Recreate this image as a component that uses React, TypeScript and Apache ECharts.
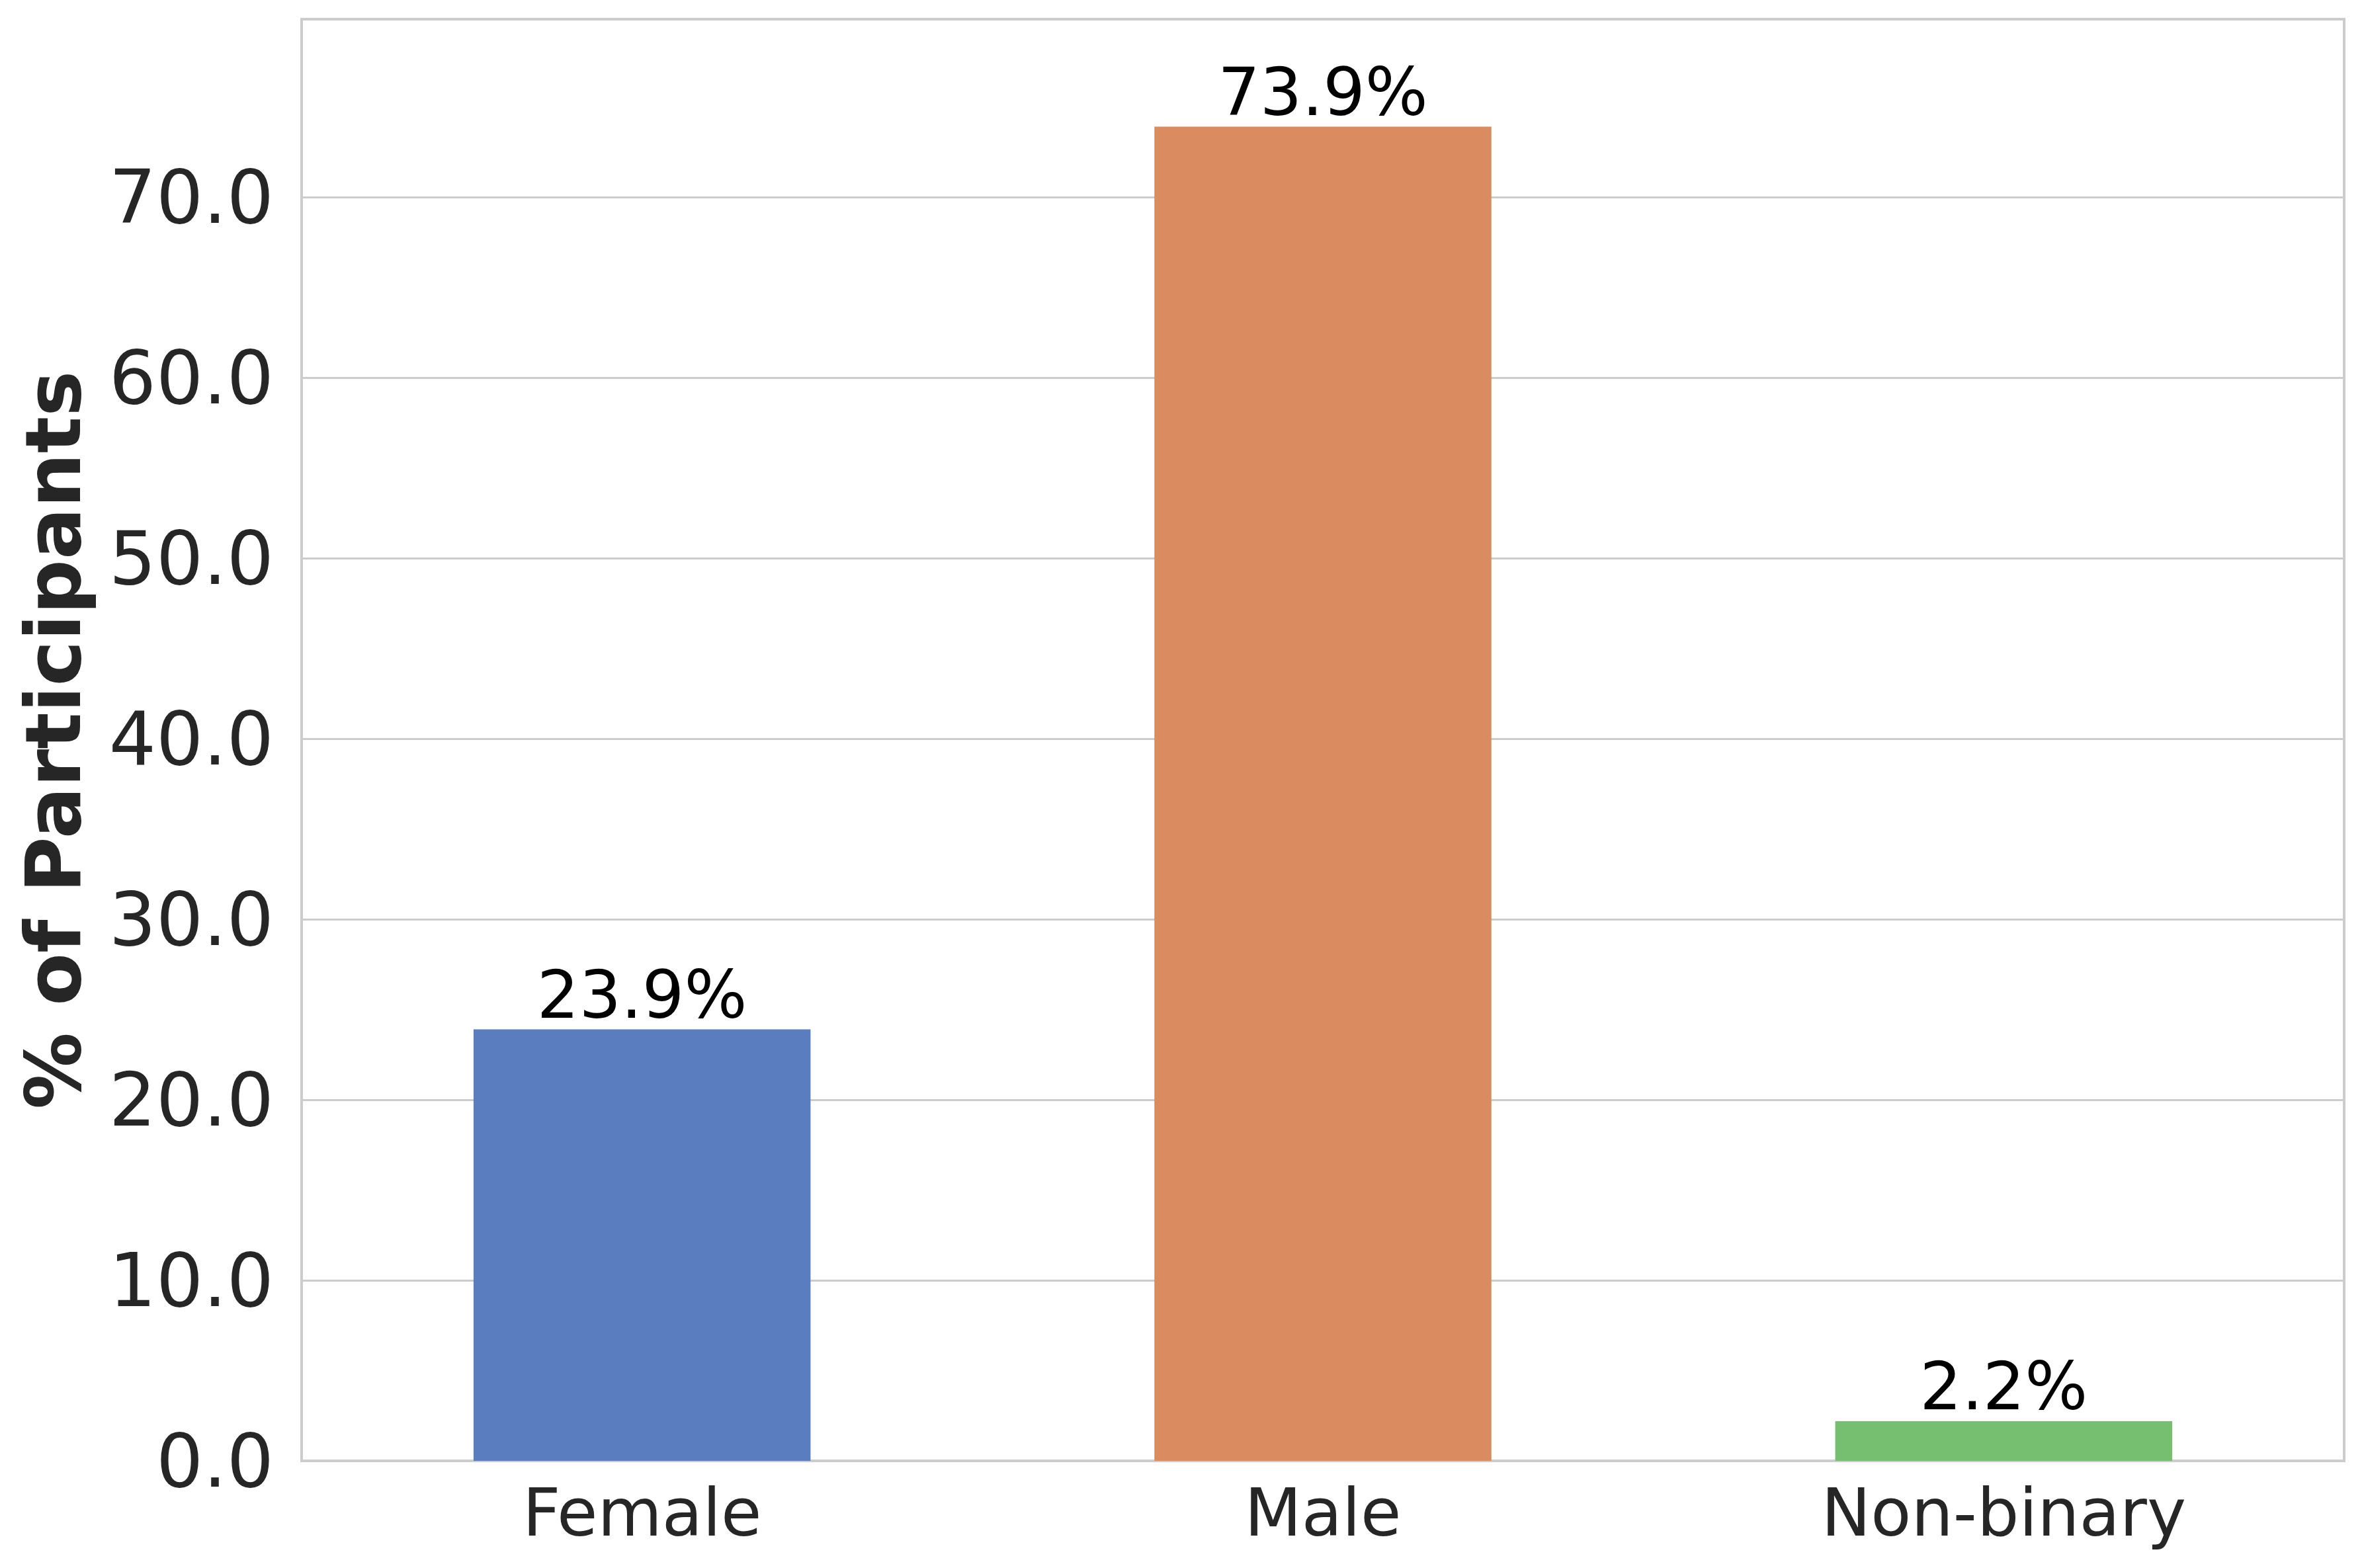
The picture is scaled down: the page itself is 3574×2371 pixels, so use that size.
import React, { useEffect, useRef } from "react";
import * as echarts from "echarts";

const categories = ["Female", "Male", "Non-binary"];
const values = [23.9, 73.9, 2.2];
const barColors = ["#597dbf", "#da8b5f", "#76bf71"];
const yMax = 79.85;
const yInterval = 10;

export default function App() {
  const ref = useRef<HTMLDivElement>(null);
  useEffect(() => {
    if (!ref.current) return;
    const chart = echarts.init(ref.current, undefined, { renderer: "svg" });
    const font = "DejaVu Sans";
    chart.setOption({
      animation: false,
      backgroundColor: "#ffffff",
      grid: {
        left: 456,
        right: 30,
        top: 29,
        bottom: 162,
        show: true,
        borderColor: "#cccccc",
        borderWidth: 4,
        backgroundColor: "transparent",
      },
      xAxis: {
        type: "category",
        data: categories,
        axisLine: { show: true, lineStyle: { color: "#cccccc", width: 4 } },
        axisTick: { show: false },
        splitLine: { show: false },
        axisLabel: {
          color: "#262626",
          fontFamily: font,
          fontSize: 100,
          lineHeight: 100,
          margin: 28,
        },
      },
      yAxis: {
        type: "value",
        min: 0,
        max: yMax,
        interval: yInterval,
        name: "% of Participants",
        nameLocation: "middle",
        nameGap: 318,
        nameTextStyle: {
          color: "#262626",
          fontFamily: font,
          fontSize: 116,
          lineHeight: 116,
          fontWeight: "bold",
        },
        axisLine: { show: false },
        axisTick: { show: false },
        splitLine: { show: true, lineStyle: { color: "#cccccc", width: 3 } },
        axisLabel: {
          color: "#262626",
          fontFamily: font,
          fontSize: 112,
          margin: 42,
          showMaxLabel: false,
          formatter: (v: number) => v.toFixed(1),
        },
      },
      series: [
        {
          type: "bar",
          data: values.map((v, i) => ({ value: v, itemStyle: { color: barColors[i] } })),
          barWidth: "49.5%",
          label: {
            show: true,
            position: "top",
            distance: 2,
            color: "#000000",
            fontFamily: font,
            fontSize: 100,
            lineHeight: 100,
            formatter: (p: any) => `${p.value.toFixed(1)}%`,
          },
        },
      ],
    });
    return () => chart.dispose();
  }, []);
  return (
    <div
      ref={ref}
      style={{ position: "fixed", left: 0, top: 0, width: "3574px", height: "2371px" }}
    />
  );
}
